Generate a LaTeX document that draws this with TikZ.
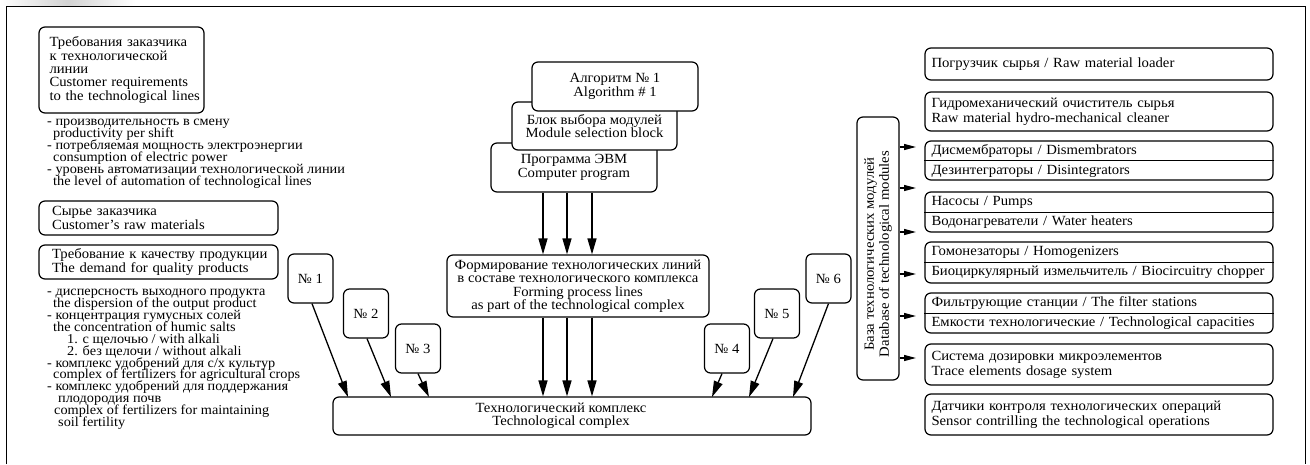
\documentclass[tikz,border=0pt]{standalone}
\usepackage{fontspec}
\setmainfont{Liberation Serif}[FakeStretch=1.05]
\usetikzlibrary{arrows.meta}
\lineskiplimit=-30pt
\newcommand\lboxfont{\fontsize{14}{13.3}\selectfont\lineskiplimit=-30pt}
\newcommand\fboxfont{\fontsize{14}{13.5}\selectfont\lineskiplimit=-30pt}
\newcommand\rboxfont{\fontsize{14}{15}\selectfont\lineskiplimit=-30pt}
\newcommand\splitfont{\fontsize{14}{20}\selectfont\lineskiplimit=-30pt}
\newcommand\bulfont{\fontsize{13.6}{11.9}\selectfont\lineskiplimit=-30pt}
\begin{document}
\begin{tikzpicture}[x=1pt,y=-1pt,
  box/.style={draw, line width=1.2pt, rounded corners=6pt, fill=white, inner sep=0pt},
  arr/.style={line width=1.3pt, -{Triangle[length=16pt,width=9pt]}},
  sarr/.style={line width=1.3pt, -{Triangle[length=12pt,width=6pt]}},
  rbox/.style={box, minimum width=348pt, inner xsep=6.5pt, text width=335pt, align=left},
  bul/.style={inner sep=0pt, align=left, font=\bulfont, anchor=north west},
  num/.style={box, minimum width=45pt, minimum height=49pt, font=\lboxfont}
]
\useasboundingbox (0,0) rectangle (1310,464);
\shade[left color=white, right color=white, middle color=gray!35] (0,0) rectangle (135,5);
\draw[line width=1pt] (6,464) -- (6,6) -- (1305,6) -- (1305,464);

% left column
\node[box, minimum width=165pt, minimum height=86pt, inner xsep=10.5pt, text width=144pt, align=left, font=\lboxfont] (req) at (121.5,70)
  {Требования заказчика\\к технологической\\линии\\Customer requirements\\\mbox{to the technological lines}};
\node[bul] (bl1) at (47,119)
  {- производительность в смену\\\hspace*{6pt}productivity per shift\\- потребляемая мощность электроэнергии\\\hspace*{6pt}consumption of electric power\\- \mbox{уровень автоматизации технологической линии}\\\hspace*{6pt}\mbox{the level of automation of technological lines}};
\node[box, minimum width=239pt, minimum height=34pt, inner xsep=13pt, text width=213pt, align=left, font=\lboxfont] (raw) at (158.5,218)
  {Сырье заказчика\\Customer's raw materials};
\node[box, minimum width=239pt, minimum height=34pt, inner xsep=13pt, text width=213pt, align=left, font=\lboxfont] (qual) at (158.5,262)
  {\mbox{Требование к качеству продукции}\\The demand for quality products};
\node[bul] (bl2) at (47,289)
  {- дисперсность выходного продукта\\\hspace*{6pt}the dispersion of the output product\\- концентрация гумусных солей\\\hspace*{6pt}the concentration of humic salts\\\hspace*{20pt}1. с щелочью / with alkali\\\hspace*{20pt}2. без щелочи / without alkali\\- комплекс удобрений для с/х культур\\\hspace*{6pt}\mbox{complex of fertilizers for agricultural crops}\\- комплекс удобрений для поддержания\\\hspace*{11pt}плодородия почв\\\hspace*{7pt}complex of fertilizers for maintaining\\\hspace*{11pt}soil fertility};

% centre stack
\node[box, minimum width=166pt, minimum height=49pt, font=\lboxfont, align=center] (prog) at (574,167.5)
  {Программа ЭВМ\\Computer program};
\node[box, minimum width=165pt, minimum height=48pt, font=\lboxfont, align=center] (blk) at (594.5,126)
  {Блок выбора модулей\\Module selection block};
\node[box, minimum width=166pt, minimum height=49pt, font=\lboxfont, align=center] (alg) at (615,86.5)
  {Алгоритм № 1\\Algorithm \# 1};
\node[box, minimum width=262pt, minimum height=62pt, font=\fboxfont, align=center] (form) at (578,286)
  {Формирование технологических линий\\в составе технологического комплекса\\Forming process lines\\as part of the technological complex};
\node[box, minimum width=478pt, minimum height=38pt] (tc) at (572,416) {};
\node[font=\lboxfont, align=center, inner sep=0pt] (tcl) at (561,416)
  {Технологический комплекс\\Technological complex};

% numbered boxes
\node[num] (n1) at (310.5,278.5) {№ 1};
\node[num] (n2) at (366,313.5) {№ 2};
\node[num] (n3) at (418,348.5) {№ 3};
\node[num] (n4) at (727,348.5) {№ 4};
\node[num] (n5) at (777,313.5) {№ 5};
\node[num] (n6) at (828.5,278.5) {№ 6};

\coordinate (e1) at (348,397);
\coordinate (e2) at (391,397);
\coordinate (e3) at (429,397);
\coordinate (e4) at (712,397);
\coordinate (e5) at (749,397);
\coordinate (e6) at (793,397);
\draw[arr] (n1.south) ++(1.5,0) -- (e1);
\draw[arr] (n2.south) ++(1,0) -- (e2);
\draw[arr] (n3.south) -- (e3);
\draw[arr] (n4.south) ++(-5,0) -- (e4);
\draw[arr] (n5.south) ++(-4,0) -- (e5);
\draw[arr] (n6.south) -- (e6);

\coordinate (m1) at (543,0);
\coordinate (m2) at (567,0);
\coordinate (m3) at (592,0);
\foreach \m in {m1,m2,m3}{
  \draw[arr] (prog.south -| \m) -- (form.north -| \m);
  \draw[arr] (form.south -| \m) -- (tc.north -| \m);
}

% database
\node[box, minimum width=42pt, minimum height=263pt] (db) at (878,248.5) {};
\node[rotate=90, font=\rboxfont, align=center, inner sep=0pt] (dbl) at (878,254)
  {База технологических модулей\\Database of technological modules};

% right column
\node[rbox, minimum height=32pt, font=\rboxfont] (r1) at (1099,64) {Погрузчик сырья / Raw material loader};
\node[rbox, minimum height=39pt, font=\rboxfont] (r2) at (1099,111.5) {Гидромеханический очиститель сырья\\Raw material hydro-mechanical cleaner};
\node[rbox, minimum height=39pt, font=\splitfont] (r3) at (1099,160.5) {Дисмембраторы / Dismembrators\\Дезинтеграторы / Disintegrators};
\node[rbox, minimum height=40pt, font=\splitfont] (r4) at (1099,212) {Насосы / Pumps\\Водонагреватели / Water heaters};
\node[rbox, minimum height=41pt, font=\splitfont] (r5) at (1099,262.5) {Гомонезаторы / Homogenizers\\\mbox{Биоциркулярный измельчитель / Biocircuitry chopper}};
\node[rbox, minimum height=40pt, font=\splitfont] (r6) at (1099,313) {Фильтрующие станции / The filter stations\\\mbox{Емкости технологические / Technological capacities}};
\node[rbox, minimum height=41pt, font=\rboxfont] (r7) at (1099,364.5) {Система дозировки микроэлементов\\Trace elements dosage system};
\node[rbox, minimum height=41pt, font=\rboxfont] (r8) at (1099,414.5) {Датчики контроля технологических операций\\\mbox{Sensor contrilling the technological operations}};
\foreach \r in {r3,r4,r5,r6}{
  \draw[line width=1pt] (\r.west) -- (\r.east);
}

\coordinate (t1) at (916,147);
\coordinate (t2) at (916,188);
\coordinate (t3) at (916,232);
\coordinate (t4) at (916,274);
\coordinate (t5) at (916,316);
\coordinate (t6) at (916,358);
\foreach \t in {t1,t2,t3,t4,t5,t6}{
  \draw[sarr] (\t -| db.east) -- (\t);
}
\end{tikzpicture}
\end{document}
